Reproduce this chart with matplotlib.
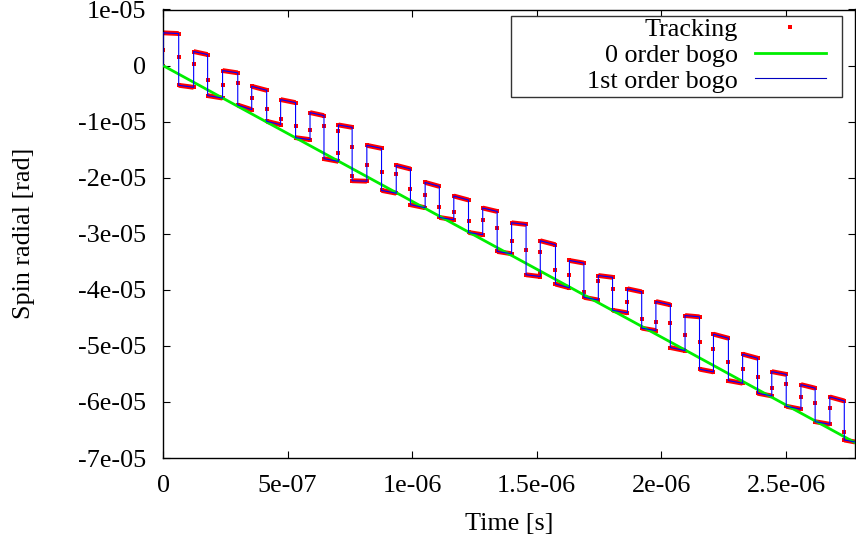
import numpy as np
import matplotlib
matplotlib.use("Agg")
import matplotlib.pyplot as plt
from matplotlib.lines import Line2D
from matplotlib.patches import Rectangle

plt.rcParams['font.family'] = ['Liberation Serif', 'DejaVu Serif']
plt.rcParams['font.size'] = 18.8

# times in microseconds, spin in microradians
t_rise = [0.000, 0.123, 0.239, 0.356, 0.472, 0.590, 0.704, 0.818, 0.936, 1.052, 1.167, 1.283,
          1.399, 1.514, 1.631, 1.747, 1.864, 1.978, 2.095, 2.209, 2.326, 2.443, 2.560, 2.676]
t_drop = [0.063, 0.179, 0.300, 0.416, 0.532, 0.646, 0.759, 0.877, 0.993, 1.109, 1.226, 1.341,
          1.457, 1.575, 1.689, 1.804, 1.921, 2.036, 2.153, 2.269, 2.386, 2.501, 2.617, 2.734]
t_end = 2.777

hi_start = [5.84, 2.50, -0.89, -3.70, -6.07, -8.39, -10.59, -14.23, -17.80, -20.84, -23.27, -25.41,
            -28.04, -31.25, -34.77, -37.45, -39.82, -42.09, -44.59, -47.91, -51.48, -54.59, -56.91, -59.11]
hi_end = [5.71, 1.96, -1.30, -4.41, -6.61, -8.93, -11.02, -14.77, -18.45, -21.55, -23.98, -26.02,
          -28.34, -31.96, -35.23, -37.77, -40.36, -42.68, -44.82, -48.63, -52.20, -55.09, -57.54, -59.82]
lo_start = [-3.52, -5.36, -7.05, -9.95, -12.86, -16.61, -20.54, -22.27, -24.82, -27.09, -29.77, -33.16,
            -37.32, -38.98, -41.34, -43.66, -46.84, -50.30, -54.16, -56.20, -58.45, -60.77, -63.52, -66.79]
lo_end = [-3.88, -5.80, -7.86, -10.54, -13.21, -17.09, -20.63, -22.77, -25.36, -27.50, -30.18, -33.57,
          -37.63, -39.64, -41.82, -44.11, -47.27, -50.84, -54.64, -56.66, -58.93, -61.29, -63.98, -67.14]
rise_mid = [[2.86], [0.30], [-3.39], [-5.71], [-9.6], [-11.43], [-15.59, -11.73], [-17.80],
            [-19.34], [-23.0], [-26.20], [-27.63], [-31.38], [-37.02, -33.27], [-37.27], [-38.39],
            [-42.09], [-45.66], [-47.98], [-50.48], [-54.05], [-57.45], [-59.05], [-61.07]]
drop_mid = [[1.48], [-2.50], [-3.09], [-7.73], [-10.71], [-10.84], [-14.59, -19.64], [-18.9],
            [-22.1], [-25.30], [-27.68], [-28.93], [-32.98], [-36.43], [-40.36], [-39.82],
            [-45.18], [-45.84], [-49.23], [-52.80], [-55.48], [-56.79], [-60.23], [-65.30]]

# 0 order bogo: straight line
bogo0_t = [0.0, 2.777]
bogo0_y = [0.0, -67.25]

xticks = [0, 5e-7, 1e-6, 1.5e-6, 2e-6, 2.5e-6]
xticklabels = ['0', '5e-07', '1e-06', '1.5e-06', '2e-06', '2.5e-06']
yticks = [1e-5, 0, -1e-5, -2e-5, -3e-5, -4e-5, -5e-5, -6e-5, -7e-5]
yticklabels = ['1e-05', '0', '-1e-05', '-2e-05', '-3e-05', '-4e-05', '-5e-05', '-6e-05', '-7e-05']


def build_path():
    t, y = [0.0], [0.0]
    band_t, band_y = [], []
    for i in range(len(t_rise)):
        t_next = t_rise[i + 1] if i + 1 < len(t_rise) else t_end
        for m in sorted(rise_mid[i]):
            t.append(t_rise[i]); y.append(m)
        t += [t_rise[i], t_drop[i]]
        y += [hi_start[i], hi_end[i]]
        for m in sorted(drop_mid[i], reverse=True):
            t.append(t_drop[i]); y.append(m)
        t += [t_drop[i], t_next]
        y += [lo_start[i], lo_end[i]]
        band_t += [t_rise[i], t_drop[i], np.nan, t_drop[i], t_next, np.nan]
        band_y += [hi_start[i], hi_end[i], np.nan, lo_start[i], lo_end[i], np.nan]
    return (np.array(t) * 1e-6, np.array(y) * 1e-6,
            np.array(band_t) * 1e-6, np.array(band_y) * 1e-6)


t, y, band_t, band_y = build_path()

fig = plt.figure(figsize=(8.56, 5.45), dpi=100)
ax = fig.add_axes([163 / 856, 1 - 458 / 545, 692 / 856, 448.5 / 545])

# tracking samples (dense on the plateaus)
ax.plot(band_t, band_y, color='#ff0000', lw=3.5, solid_capstyle='butt', zorder=2)
ax.plot(t, y, ls='none', marker='s', ms=3.5, color='#ff0000', mew=0, zorder=2)
ax.plot(np.array(bogo0_t) * 1e-6, np.array(bogo0_y) * 1e-6, color='#00ee00', lw=2.0, zorder=3)
ax.plot(t, y, color='#0000ff', lw=0.8, zorder=4)

ax.set_xlim(0, t_end * 1e-6)
ax.set_ylim(-7e-5, 1e-5)
ax.set_xticks(xticks)
ax.set_xticklabels(xticklabels)
ax.set_yticks(yticks)
ax.set_yticklabels(yticklabels)
ax.tick_params(direction='in', length=5, width=0.8, top=True, right=True)
ax.tick_params(axis='y', pad=12)
ax.tick_params(axis='x', pad=12)
for s in ax.spines.values():
    s.set_linewidth(1.0)

ax.set_xlabel('Time [s]')
ax.set_ylabel('Spin radial [rad]')
ax.xaxis.set_label_coords(0.5, -0.122)
ax.yaxis.set_label_coords(-0.185, 0.5)

handles = [Line2D([], [], ls='none', marker='s', ms=3.0, color='#ff0000', mew=0),
           Line2D([], [], color='#00ee00', lw=2.0),
           Line2D([], [], color='#0000c0', lw=0.8)]
labels = ['Tracking', '0 order bogo', '1st order bogo']
ax.legend(handles, labels, loc='upper right', bbox_to_anchor=(0.958, 0.982),
          markerfirst=False, frameon=False, borderpad=0, borderaxespad=0,
          handlelength=2.73, handletextpad=0.65, labelspacing=0.1)
ax.add_patch(Rectangle((0.503, 0.805), 0.478, 0.181, transform=ax.transAxes,
                       fill=True, facecolor='white', edgecolor='#333333', lw=1.0, zorder=5))
ax.get_legend().set_zorder(6)

fig.savefig('out.png', dpi=100)
